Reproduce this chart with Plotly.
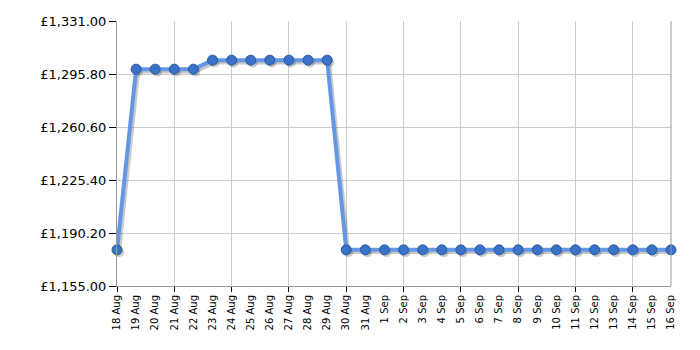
import plotly.graph_objects as go
import pandas as pd

dates = pd.date_range("2023-08-18", "2023-09-16", freq="D")
labels = [f"{d.day} {d.strftime('%b')}" for d in dates]
prices = [1179, 1299, 1299, 1299, 1299, 1305, 1305, 1305, 1305, 1305, 1305, 1305,
          1179, 1179, 1179, 1179, 1179, 1179, 1179, 1179, 1179, 1179, 1179, 1179,
          1179, 1179, 1179, 1179, 1179, 1179]
y_ticks = [1155.00, 1190.20, 1225.40, 1260.60, 1295.80, 1331.00]
y_labels = ["\u00a3" + f"{v:,.2f}" for v in y_ticks]

x = [d.strftime("%Y-%m-%d") for d in dates]
shadow_x = [(d + pd.Timedelta(hours=2.5)).strftime("%Y-%m-%d %H:%M") for d in dates]
shadow_y = [p - 1.5 for p in prices]

fig = go.Figure()
fig.add_trace(go.Scatter(
    x=shadow_x, y=shadow_y, mode="lines+markers",
    line=dict(color="rgba(60,60,60,0.28)", width=4),
    marker=dict(size=10, color="rgba(60,60,60,0.28)"),
    hoverinfo="skip", cliponaxis=False, showlegend=False))
fig.add_trace(go.Scatter(
    x=x, y=prices, mode="lines+markers",
    line=dict(color="#6496e6", width=4),
    marker=dict(size=10, color="#3a72c8", line=dict(color="#2a5a9e", width=1)),
    cliponaxis=False, showlegend=False))

rng = [x[0], x[-1]]
fig.update_layout(
    width=700, height=350,
    margin=dict(l=117, r=29, t=21, b=64),
    paper_bgcolor="white", plot_bgcolor="white",
    font=dict(family="DejaVu Sans", color="black"),
    xaxis=dict(type="date", range=rng, tickvals=x, ticktext=labels, tickangle=-90,
               showgrid=False, ticks="", tickfont=dict(size=10), ticklabelstandoff=4,
               showline=True, linecolor="#999999", linewidth=1, zeroline=False),
    xaxis2=dict(type="date", range=rng, overlaying="x", anchor="y", side="bottom",
                tickvals=x[::3], showticklabels=False, ticks="outside", ticklen=5,
                tickcolor="black", showgrid=True, gridcolor="#cccccc", gridwidth=1,
                showline=False, zeroline=False),
    yaxis=dict(range=[1155, 1331], tickmode="array", tickvals=y_ticks, ticktext=y_labels,
               ticks="outside", ticklen=7, tickcolor="black", tickfont=dict(size=13),
               showgrid=True, gridcolor="#cccccc", showline=True, linecolor="#999999",
               zeroline=False),
)
fig.add_trace(go.Scatter(x=rng, y=[None, None], xaxis="x2", showlegend=False, hoverinfo="skip"))
fig.update_layout(shapes=[dict(type="line", xref="paper", yref="paper", x0=1, x1=1, y0=0, y1=1,
                               line=dict(color="#999999", width=1))])
fig.write_html("out.html")
